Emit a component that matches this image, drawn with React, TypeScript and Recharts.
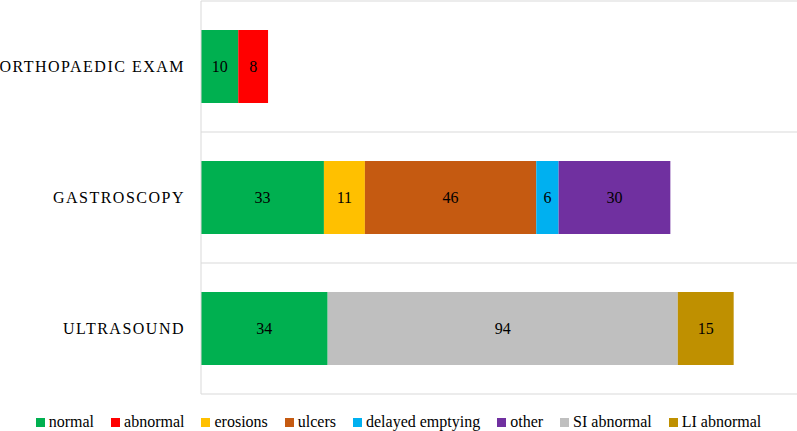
import { BarChart, Bar, XAxis, YAxis, CartesianGrid, Legend, LabelList } from "recharts";

const categories = ["ORTHOPAEDIC EXAM", "GASTROSCOPY", "ULTRASOUND"];
const seriesNames = ["normal", "abnormal", "erosions", "ulcers", "delayed emptying", "other", "SI abnormal", "LI abnormal"];
const seriesColors = ["#00B050", "#FF0000", "#FFC000", "#C55A11", "#00B0F0", "#7030A0", "#BFBFBF", "#BF9000"];

// values per series, in category order (null = not present)
const normal = [10, 33, 34];
const abnormal = [8, null, null];
const erosions = [null, 11, null];
const ulcers = [null, 46, null];
const delayedEmptying = [null, 6, null];
const other = [null, 30, null];
const siAbnormal = [null, null, 94];
const liAbnormal = [null, null, 15];

const seriesValues = [normal, abnormal, erosions, ulcers, delayedEmptying, other, siAbnormal, liAbnormal];

const data = categories.map((name, i) => {
  const row: Record<string, any> = { name };
  seriesNames.forEach((s, j) => {
    const v = seriesValues[j][i];
    if (v != null) row[s] = v;
  });
  return row;
});

const FONT = "'Liberation Serif', 'Times New Roman', serif";

const LegendContent = () => (
  <div style={{ display: "flex", justifyContent: "center", fontFamily: FONT, fontSize: 16, color: "#000" }}>
    {seriesNames.map((s, i) => (
      <div key={s} style={{ display: "flex", alignItems: "center", marginRight: i < seriesNames.length - 1 ? 17 : 0 }}>
        <span style={{ width: 9, height: 9, background: seriesColors[i], display: "inline-block", marginRight: 4 }} />
        <span style={{ fontFamily: FONT }}>{s}</span>
      </div>
    ))}
  </div>
);

export default function App() {
  return (
    <div style={{ position: "fixed", left: 0, top: 0, background: "#fff", fontFamily: FONT }}>
      <BarChart
        width={797}
        height={431}
        data={data}
        layout="vertical"
        margin={{ top: 1, right: 0, left: 0, bottom: 0 }}
        barSize={73}
        style={{ fontFamily: FONT }}
      >
        <CartesianGrid
          stroke="#D9D9D9"
          vertical={false}
          horizontalCoordinatesGenerator={({ offset }: any) => {
            const n = categories.length;
            return Array.from({ length: n + 1 }, (_, k) => offset.top + (offset.height * k) / n);
          }}
        />
        <XAxis type="number" domain={[0, 160]} hide />
        <YAxis
          type="category"
          dataKey="name"
          width={201}
          axisLine={{ stroke: "#D9D9D9" }}
          tickLine={false}
          tickSize={0}
          tickMargin={16}
          tick={{ fill: "#000", fontSize: 16, fontFamily: FONT, letterSpacing: 1.5 }}
        />
        <Legend verticalAlign="bottom" content={<LegendContent />} wrapperStyle={{ paddingTop: 19 }} />
        {seriesNames.map((s, i) => (
          <Bar key={s} dataKey={s} stackId="a" fill={seriesColors[i]} isAnimationActive={false}>
            <LabelList dataKey={s} position="center" fill="#000" fontSize={16} style={{ fontFamily: FONT }} />
          </Bar>
        ))}
      </BarChart>
    </div>
  );
}
